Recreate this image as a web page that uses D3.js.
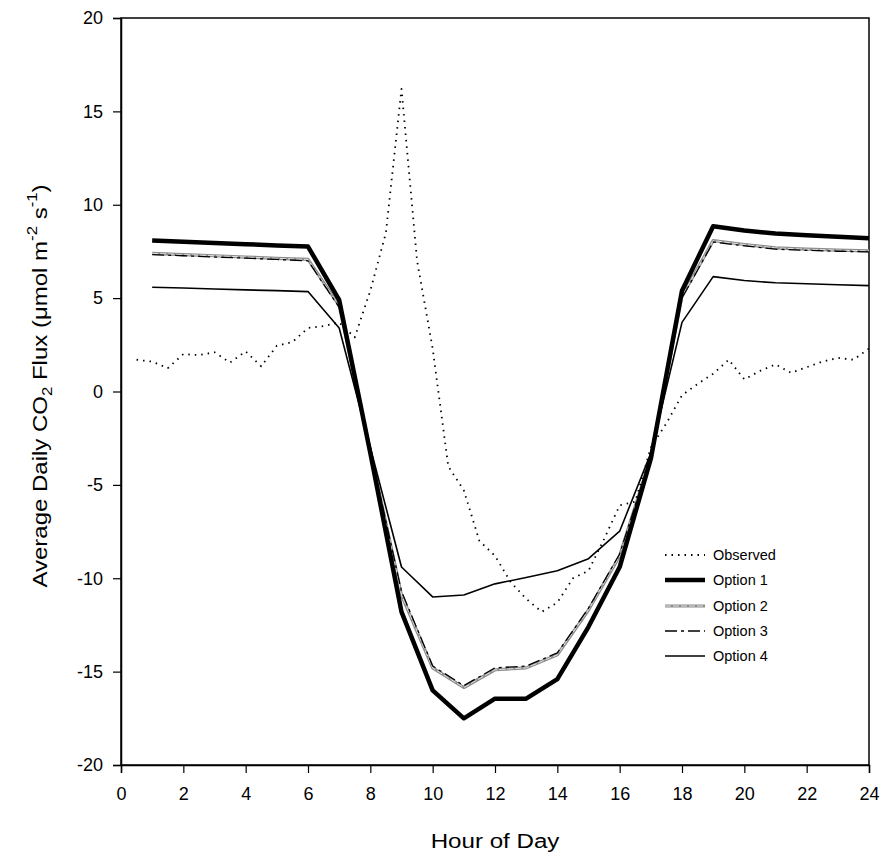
<!DOCTYPE html>
<html><head><meta charset="utf-8">
<script src="https://cdn.jsdelivr.net/npm/d3@7"></script>
<style>body{margin:0;background:#fff}svg{display:block}text{font-family:"Liberation Sans",Arial,sans-serif}</style>
</head><body><svg id="c" width="883" height="855"></svg>
<script>
const hours = [1,2,3,4,5,6,7,8,9,10,11,12,13,14,15,16,17,18,19,20,21,22,23,24];
const option1 = [8.08,8.02,7.95,7.89,7.82,7.76,4.9,-3.3,-11.8,-16.0,-17.5,-16.45,-16.45,-15.4,-12.6,-9.4,-3.6,5.4,8.85,8.62,8.46,8.37,8.29,8.21];
const option2 = [7.4,7.33,7.27,7.2,7.13,7.07,4.6,-3.2,-10.9,-14.8,-15.85,-14.9,-14.8,-14.1,-11.7,-8.8,-3.5,5.1,8.08,7.87,7.69,7.62,7.57,7.53];
const option3 = [7.33,7.27,7.2,7.14,7.07,7.0,4.5,-3.2,-10.7,-14.7,-15.75,-14.8,-14.7,-14.0,-11.6,-8.7,-3.5,5.0,8.0,7.8,7.62,7.56,7.51,7.48];
const option4 = [5.58,5.54,5.49,5.44,5.40,5.35,3.4,-3.0,-9.4,-11.0,-10.9,-10.3,-9.96,-9.6,-8.95,-7.48,-3.3,3.7,6.15,5.94,5.82,5.77,5.72,5.67];
const obsHours = [0.5,1,1.5,2,2.5,3,3.5,4,4.5,5,5.5,6,6.5,7,7.5,8,8.5,9,9.5,10,10.5,11,11.5,12,12.5,13,13.5,14,14.5,15,15.5,16,16.5,17,17.5,18,18.5,19,19.5,20,20.5,21,21.5,22,22.5,23,23.5,24];
const observed = [1.7,1.6,1.25,2.0,1.95,2.1,1.55,2.15,1.35,2.45,2.65,3.4,3.5,3.7,2.9,5.4,8.5,16.2,7.0,2.3,-4.0,-5.3,-8.0,-8.8,-10.2,-11.1,-11.8,-11.3,-10.0,-9.6,-7.9,-6.1,-5.9,-3.0,-1.7,-0.2,0.4,0.95,1.7,0.65,1.1,1.45,1.0,1.3,1.6,1.8,1.7,2.3];
const xTicks = [0,2,4,6,8,10,12,14,16,18,20,22,24];
const yTicks = [-20,-15,-10,-5,0,5,10,15,20];
const seriesNames = ["Observed","Option 1","Option 2","Option 3","Option 4"];

const svg = d3.select("#c");
const L=121,R=869,T=18,B=765;
const x = d3.scaleLinear().domain([0,24]).range([L,R]);
const y = d3.scaleLinear().domain([-20,20]).range([B,T]);

svg.append("rect").attr("x",L).attr("y",T).attr("width",R-L).attr("height",B-T)
  .attr("fill","none").attr("stroke","#000").attr("stroke-width",1.5);

const fmt = d=>String(d);
const xa = svg.append("g").attr("transform",`translate(0,${B})`)
  .call(d3.axisBottom(x).tickValues(xTicks).tickSize(8).tickPadding(14).tickFormat(fmt));
const ya = svg.append("g").attr("transform",`translate(${L},0)`)
  .call(d3.axisLeft(y).tickValues(yTicks).tickSize(8).tickPadding(10).tickFormat(fmt));
[xa,ya].forEach(a=>{a.select(".domain").attr("stroke-width",1.5);
  a.selectAll(".tick line").attr("stroke-width",1.2);
  a.selectAll("text").attr("font-size",18).attr("fill","#000").attr("font-family","'Liberation Sans',Arial,sans-serif");});

// axis titles
svg.append("text").attr("transform",`translate(${(L+R)/2},848) scale(1.15,1)`).attr("text-anchor","middle").attr("font-size",21).text("Hour of Day");
const yt = svg.append("text").attr("transform","translate(47,386) rotate(-90) scale(1.2,1)").attr("text-anchor","middle").attr("font-size",20);
yt.append("tspan").text("Average Daily CO");
yt.append("tspan").attr("font-size",14).attr("dy",5).text("2");
yt.append("tspan").attr("dy",-5).text(" Flux (\u03bcmol m");
yt.append("tspan").attr("font-size",14).attr("dy",-10).text("-2");
yt.append("tspan").attr("dy",10).text(" s");
yt.append("tspan").attr("font-size",14).attr("dy",-10).text("-1");
yt.append("tspan").attr("dy",10).text(")");

const line = d3.line().x(d=>x(d[0])).y(d=>y(d[1]));
const pts = v=>hours.map((h,i)=>[h,v[i]]);
const g = svg.append("g").attr("fill","none").attr("stroke-linejoin","round");

g.append("path").attr("d",line(pts(option2))).attr("stroke","#8c8c8c").attr("stroke-width",3.2);
g.append("path").attr("d",line(pts(option2))).attr("stroke","#e0e0e0").attr("stroke-width",1).attr("stroke-dasharray","6,2");
g.append("path").attr("d",line(pts(option3))).attr("stroke","#000").attr("stroke-width",1.3).attr("stroke-dasharray","12,4,3,4");
g.append("path").attr("d",line(pts(option4))).attr("stroke","#000").attr("stroke-width",1.6);
g.append("path").attr("d",line(pts(option1))).attr("stroke","#000").attr("stroke-width",4.5);
g.append("path").attr("d",line(obsHours.map((h,i)=>[h,observed[i]]))).attr("stroke","#000")
  .attr("stroke-width",1.8).attr("stroke-dasharray","1.5,5");

// legend
const ly = [555,580,606,631,656];
const lg = svg.append("g");
const styles = [
  [{stroke:"#000",w:1.8,dash:"1.5,5"}],
  [{stroke:"#000",w:4.5}],
  [{stroke:"#8c8c8c",w:3.2},{stroke:"#e0e0e0",w:1,dash:"6,2"}],
  [{stroke:"#000",w:1.3,dash:"12,4,3,4"}],
  [{stroke:"#000",w:1.6}]
];
seriesNames.forEach((n,i)=>{
  styles[i].forEach(s=>{
    lg.append("line").attr("x1",665).attr("x2",705).attr("y1",ly[i]).attr("y2",ly[i])
      .attr("stroke",s.stroke).attr("stroke-width",s.w).attr("stroke-dasharray",s.dash||null);
  });
  lg.append("text").attr("x",713).attr("y",ly[i]+5).attr("font-size",14.5).text(n);
});
</script></body></html>
